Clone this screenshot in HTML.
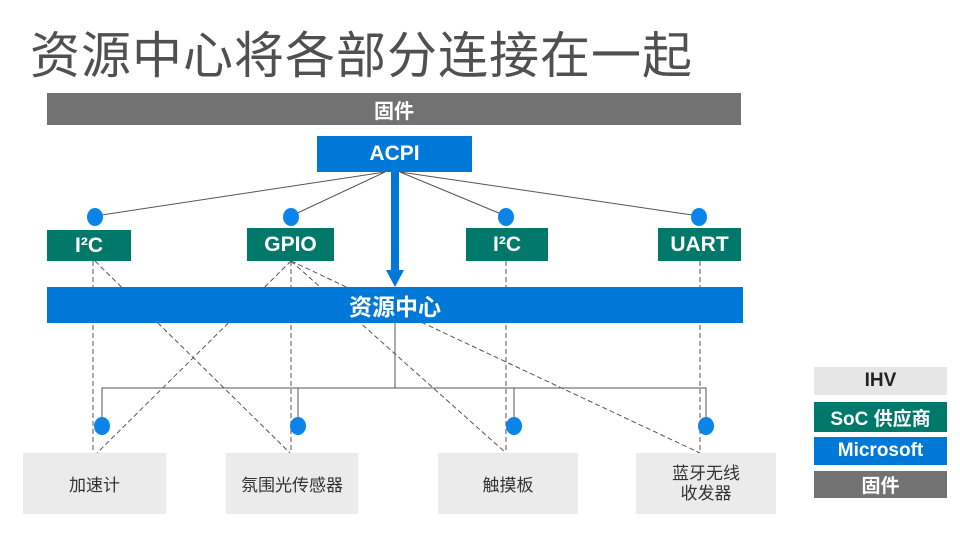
<!DOCTYPE html>
<html><head><meta charset="utf-8"><style>
body{margin:0;width:960px;height:540px;background:#fff;position:relative;overflow:hidden;font-family:"Liberation Sans","Noto Sans CJK SC",sans-serif}
.a{position:absolute;display:flex;align-items:center;justify-content:center;box-sizing:border-box}
.t{color:#fff;font-weight:bold;font-size:21px}
.g{background:#727272}
.teal{background:#00786a}
.blue{background:#0078d7}
.lg{background:#ebebeb;color:#333;font-size:17px}
svg{position:absolute;left:0;top:0}
</style></head><body>
<div class="a" style="left:30px;top:22px;height:60px;font-size:50px;color:#505050;letter-spacing:1px">资源中心将各部分连接在一起</div>
<div class="a g t" style="left:47px;top:93px;width:694px;height:32px;font-size:20px">固件</div>
<svg width="960" height="540">
<g stroke="#555" stroke-width="1" fill="none">
<line x1="385" y1="172" x2="95" y2="216"/>
<line x1="385" y1="172" x2="291" y2="216"/>
<line x1="400" y1="172" x2="506" y2="216"/>
<line x1="400" y1="172" x2="699" y2="216"/>
<line x1="395" y1="323" x2="395" y2="388"/>
<polyline points="102,425 102,388 706,388 706,425"/>
<line x1="298" y1="388" x2="298" y2="425"/>
<line x1="514" y1="388" x2="514" y2="425"/>
</g>
<g stroke="#555" stroke-width="1" stroke-dasharray="5,3" fill="none">
<line x1="93" y1="261" x2="93" y2="453"/>
<line x1="95" y1="261" x2="290" y2="453"/>
<line x1="291" y1="261" x2="97" y2="453"/>
<line x1="291" y1="261" x2="291" y2="453"/>
<line x1="291" y1="261" x2="506" y2="453"/>
<line x1="291" y1="261" x2="700" y2="453"/>
<line x1="506" y1="261" x2="506" y2="453"/>
<line x1="700" y1="261" x2="700" y2="453"/>
</g>
<g fill="#0a84e8">
<ellipse cx="95" cy="217" rx="8" ry="9"/><ellipse cx="291" cy="217" rx="8" ry="9"/>
<ellipse cx="506" cy="217" rx="8" ry="9"/><ellipse cx="699" cy="217" rx="8" ry="9"/>
<ellipse cx="102" cy="426" rx="8" ry="9"/><ellipse cx="298" cy="426" rx="8" ry="9"/>
<ellipse cx="514" cy="426" rx="8" ry="9"/><ellipse cx="706" cy="426" rx="8" ry="9"/>
</g>
<rect x="391" y="170" width="8" height="100" fill="#0078d7"/>
<polygon points="386,270 404,270 395,287" fill="#0078d7"/>
</svg>
<div class="a blue t" style="left:317px;top:136px;width:155px;height:36px">ACPI</div>
<div class="a teal t" style="left:47px;top:230px;width:84px;height:31px">I²C</div>
<div class="a teal t" style="left:247px;top:228px;width:87px;height:33px">GPIO</div>
<div class="a teal t" style="left:466px;top:228px;width:82px;height:33px">I²C</div>
<div class="a teal t" style="left:658px;top:228px;width:83px;height:33px">UART</div>
<div class="a blue t" style="left:47px;top:287px;width:696px;height:36px;font-size:23px">资源中心</div>
<div class="a lg" style="left:23px;top:453px;width:143px;height:61px">加速计</div>
<div class="a lg" style="left:226px;top:453px;width:132px;height:61px">氛围光传感器</div>
<div class="a lg" style="left:438px;top:453px;width:140px;height:61px">触摸板</div>
<div class="a lg" style="left:636px;top:453px;width:140px;height:61px;line-height:20px;text-align:center">蓝牙无线<br>收发器</div>
<div class="a" style="left:814px;top:367px;width:133px;height:28px;background:#e6e6e6;color:#222;font-weight:bold;font-size:19px">IHV</div>
<div class="a teal t" style="left:814px;top:402px;width:133px;height:30px;font-size:19px">SoC 供应商</div>
<div class="a blue t" style="left:814px;top:437px;width:133px;height:28px;font-size:19px">Microsoft</div>
<div class="a g t" style="left:814px;top:471px;width:133px;height:27px;font-size:19px">固件</div>
</body></html>
